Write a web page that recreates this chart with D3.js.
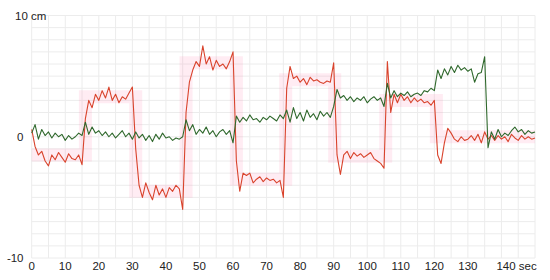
<!DOCTYPE html>
<html><head><meta charset="utf-8">
<script src="https://cdn.jsdelivr.net/npm/d3@7"></script>
<style>
html,body{margin:0;padding:0;background:#fff;}
svg{display:block;font-family:"Liberation Sans",Arial,Helvetica,sans-serif;}
</style></head>
<body><svg id="c" width="550" height="280"></svg>
<script>
// time in seconds (1 s sampling)
const redValues = [0.6,-0.8,-1.5,-1.2,-2.0,-2.4,-1.5,-1.9,-1.3,-1.7,-2.1,-1.4,-1.8,-1.9,-1.5,-2.3,
1.5,3.0,2.4,3.5,3.0,3.8,3.2,4.1,3.0,3.5,2.8,3.3,3.1,3.6,4.1,
-1.0,-4.0,-5.0,-3.8,-4.6,-5.2,-4.0,-4.8,-4.3,-5.0,-4.2,-4.5,-4.0,-4.3,-6.0,
2.0,4.5,5.5,6.2,5.8,7.5,6.0,6.6,5.5,6.3,5.8,6.0,5.6,6.2,7.0,
-2.0,-4.5,-3.0,-3.2,-3.0,-3.8,-3.5,-3.3,-3.7,-3.4,-3.6,-3.5,-3.8,-3.6,-5.0,
4.0,5.8,4.8,5.0,4.5,4.8,4.3,4.9,4.6,4.7,4.5,4.4,4.6,4.5,6.1,
-1.5,-3.1,-1.5,-1.2,-1.8,-1.3,-1.6,-1.4,-1.7,-1.5,-1.3,-1.8,-2.0,-2.2,-2.6,
6.2,2.0,3.5,2.8,3.5,3.0,3.3,2.8,3.2,2.9,3.1,2.8,2.9,2.6,3.0,
-1.5,-2.2,-0.5,0.7,0.3,-0.2,-0.4,0.0,-0.3,-0.2,0.1,-0.3,0.2,-0.5,0.4,-0.2,0.1,-0.3,0.1,-0.2,
0.0,-0.4,0.2,-0.1,-0.3,0.1,-0.2,0.0,-0.2,-0.1];
const greenValues = [0.3,1.0,-0.2,0.6,0.1,0.4,-0.1,0.3,0.0,0.2,-0.3,0.1,-0.2,0.0,0.3,0.1,
1.2,0.2,0.8,0.3,0.5,0.1,0.4,0.0,0.3,-0.1,0.2,0.5,0.0,0.3,-0.2,
0.4,-0.1,0.2,-0.3,0.1,-0.4,0.2,-0.2,0.3,-0.1,0.0,-0.3,-0.1,-0.2,0.0,
1.4,0.5,1.0,0.2,0.6,0.3,0.8,0.2,0.5,0.0,0.4,0.6,0.2,0.5,-0.5,
1.7,1.2,1.6,1.3,1.8,1.4,1.5,1.2,1.6,1.4,1.7,1.5,1.3,1.8,1.5,
2.2,1.2,2.4,1.5,2.0,1.3,2.2,1.6,1.9,1.4,2.1,1.7,2.0,1.6,2.5,
3.9,3.2,3.4,3.0,3.3,2.9,3.2,3.0,3.3,2.8,3.1,3.3,3.0,3.2,2.5,
4.4,3.2,3.8,3.3,3.6,3.4,3.7,3.3,3.5,3.6,3.4,3.8,3.7,4.0,3.8,
5.5,4.8,5.6,5.1,5.8,5.3,5.9,5.5,5.7,5.4,5.6,4.5,5.2,5.3,6.6,
-0.9,0.4,-0.2,0.6,0.0,0.3,0.1,0.5,0.8,0.4,0.6,0.2,0.5,0.3,0.4];
// target step bands (red)
const bandStarts = [0,16,31,46,61,75.7,90.3,105.5,120.6];
const bandEnds   = [16,31,46,61,75.7,90.3,105.5,120.6,150];
const bandLevels = [-1.5,3.3,-4.5,6.1,-3.5,4.7,-1.6,3.0,0];
const xTicks = [0,10,20,30,40,50,60,70,80,90,100,110,120,130];
const yTicks = [-10,0];

const svg = d3.select("#c");
const x = d3.scaleLinear().domain([0,150]).range([31.7,535]);
const y = d3.scaleLinear().domain([-10,10]).range([258,15.5]);

// grid
const g = svg.append("g");
g.selectAll("line.v").data(d3.range(0,151,5)).join("line")
  .attr("x1",d=>x(d)).attr("x2",d=>x(d)).attr("y1",y(10)).attr("y2",y(-10))
  .attr("stroke","#ececec").attr("stroke-width",1);
g.selectAll("line.h").data(d3.range(-10,11,1)).join("line")
  .attr("y1",d=>y(d)).attr("y2",d=>y(d)).attr("x1",x(0)).attr("x2",x(150))
  .attr("stroke","#ececec").attr("stroke-width",1);

// pink target bands
const bandPts = [];
bandStarts.forEach((s,i)=>{ bandPts.push([s,bandLevels[i]]); bandPts.push([bandEnds[i],bandLevels[i]]); });
svg.append("path").datum(bandPts)
  .attr("d",d3.line().x(d=>x(d[0])).y(d=>y(d[1])))
  .attr("fill","none").attr("stroke","#ff6fa0").attr("stroke-opacity",0.13).attr("stroke-width",13)
  .attr("stroke-linejoin","miter").attr("stroke-linecap","butt");

const line = d3.line().x((d,i)=>x(i)).y(d=>y(d));
svg.append("path").datum(redValues).attr("d",line)
  .attr("fill","none").attr("stroke","#d9432c").attr("stroke-width",1.1).attr("stroke-linejoin","round");
svg.append("path").datum(greenValues).attr("d",line)
  .attr("fill","none").attr("stroke","#2f682c").attr("stroke-width",1.1).attr("stroke-linejoin","round");

// axis labels
const ta = svg.append("g").attr("font-size","11.5px").attr("fill","#222");
ta.selectAll("text.x").data(xTicks).join("text")
  .attr("x",d=>x(d)).attr("y",270).attr("text-anchor","middle").text(d=>d);
ta.append("text").attr("x",x(140)-5).attr("y",270).text("140 sec");
ta.selectAll("text.y").data(yTicks).join("text")
  .attr("x",23.5).attr("y",d=>y(d)+4).attr("text-anchor","end").text(d=>d);
ta.append("text").attr("x",15).attr("y",y(10)+4).text("10 cm");
</script></body></html>
